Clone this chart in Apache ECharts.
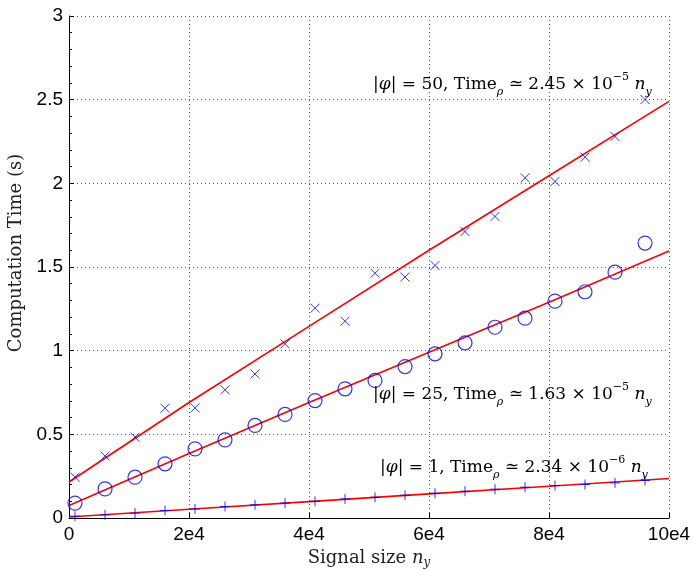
<!DOCTYPE html>
<html>
<head>
<meta charset="utf-8">
<script src="https://cdn.jsdelivr.net/npm/echarts@6/dist/echarts.min.js"></script>
<style>
  html, body { margin: 0; padding: 0; background: #fff; }
  #chart { width: 695px; height: 569px; }
</style>
</head>
<body>
<div id="chart"></div>
<script>
// signal sizes n_y
const signalSize = [1000, 6000, 11000, 16000, 21000, 26000, 31000, 36000, 41000, 46000,
  51000, 56000, 61000, 66000, 71000, 76000, 81000, 86000, 91000, 96000];
// |phi| = 50 (x markers)
const time50 = [0.244, 0.37, 0.483, 0.656, 0.658, 0.766, 0.861, 1.041, 1.254, 1.176,
  1.463, 1.44, 1.509, 1.712, 1.802, 2.033, 2.011, 2.156, 2.28, 2.501];
// |phi| = 25 (circles)
const time25 = [0.089, 0.174, 0.244, 0.324, 0.413, 0.467, 0.553, 0.619, 0.702, 0.772,
  0.822, 0.905, 0.981, 1.047, 1.14, 1.194, 1.296, 1.352, 1.469, 1.643];
// |phi| = 1 (plus)
const time1 = [0.011, 0.019, 0.029, 0.045, 0.054, 0.069, 0.079, 0.089, 0.1, 0.114,
  0.124, 0.136, 0.148, 0.16, 0.172, 0.184, 0.194, 0.2, 0.21, 0.224];
// fitted lines, sampled at the x ticks
const fitX = [0, 20000, 40000, 60000, 80000, 100000];
const fit50 = [0.215, 0.69, 1.145, 1.6, 2.045, 2.49];
const fit25 = [0.075, 0.385, 0.69, 0.99, 1.29, 1.595];
const fit1 = [0.006, 0.052, 0.098, 0.144, 0.19, 0.236];
const xTicks = ['0', '2e4', '4e4', '6e4', '8e4', '10e4'];

const blue = '#0000ff';
const red = '#ff0000';
const ink = '#222';
const serif = 'DejaVu Serif';
const sans = 'Liberation Sans';

const pts = (xs, ys) => xs.map((x, i) => [x, ys[i]]);

function richLabel(phi, coef, exp) {
  return {
    text: '{t||}{it|φ}{t|| = ' + phi + ', Time}{sub|ρ}{t| ≃ ' + coef + ' × 10}{sup|−' + exp + '}{t| }{it|n}{sub|y}',
    rich: {
      t: { fontFamily: serif, fontSize: 17, color: ink, lineHeight: 26, verticalAlign: 'middle' },
      it: { fontFamily: serif, fontSize: 17, fontStyle: 'italic', color: ink, lineHeight: 26, verticalAlign: 'middle' },
      sub: { fontFamily: serif, fontSize: 11, fontStyle: 'italic', color: ink, lineHeight: 26, verticalAlign: 'bottom' },
      sup: { fontFamily: serif, fontSize: 11, color: ink, lineHeight: 26, verticalAlign: 'top' }
    }
  };
}

const myChart = echarts.init(document.getElementById('chart'));
const option = {
  animation: false,
  grid: { left: 69, right: 26, top: 16, bottom: 51, outerBoundsMode: 'none' },
  xAxis: {
    type: 'value',
    min: 0,
    max: 100000,
    interval: 20000,
    name: 'Signal size {i|n}{s|y}',
    nameLocation: 'middle',
    nameGap: 28,
    nameTextStyle: {
      fontFamily: serif, fontSize: 18, color: ink,
      rich: {
        i: { fontFamily: serif, fontSize: 18, fontStyle: 'italic', color: ink },
        s: { fontFamily: serif, fontSize: 12, fontStyle: 'italic', color: ink, padding: [10, 0, 0, 0] }
      }
    },
    axisLine: { lineStyle: { color: '#000', width: 1 } },
    axisTick: { inside: true, length: 5, lineStyle: { color: '#000' } },
    axisLabel: {
      fontFamily: sans, fontSize: 19, color: '#000', margin: 7,
      formatter: (v) => xTicks[Math.round(v / 20000)]
    },
    splitLine: { show: true, lineStyle: { color: '#555', type: [1, 3], width: 1 } }
  },
  yAxis: {
    type: 'value',
    min: 0,
    max: 3,
    interval: 0.5,
    name: 'Computation Time (s)',
    nameLocation: 'middle',
    nameGap: 34,
    nameTextStyle: { fontFamily: serif, fontSize: 18, color: ink, padding: [0, 0, 0, 28] },
    axisLine: { show: true, lineStyle: { color: '#000', width: 1 } },
    axisTick: { show: true, inside: true, length: 5, lineStyle: { color: '#000' } },
    minorTick: { show: true, splitNumber: 5, length: 3, lineStyle: { color: '#000' } },
    axisLabel: { fontFamily: sans, fontSize: 19, color: '#000', margin: 6 },
    splitLine: { show: true, lineStyle: { color: '#555', type: [1, 3], width: 1 } }
  },
  graphic: [
    { type: 'text', left: 373, top: 72, style: richLabel(50, '2.45', 5) },
    { type: 'text', left: 373, top: 382, style: richLabel(25, '1.63', 5) },
    { type: 'text', left: 380, top: 455, style: richLabel(1, '2.34', 6) }
  ],
  series: [
    {
      type: 'line', data: pts(fitX, fit50), showSymbol: false,
      lineStyle: { color: red, width: 1.6 }, silent: true, z: 2
    },
    {
      type: 'line', data: pts(fitX, fit25), showSymbol: false,
      lineStyle: { color: red, width: 1.6 }, silent: true, z: 2
    },
    {
      type: 'line', data: pts(fitX, fit1), showSymbol: false,
      lineStyle: { color: red, width: 1.6 }, silent: true, z: 2
    },
    {
      type: 'scatter', data: pts(signalSize, time50), z: 3,
      symbol: 'path://M0,0L10,10M10,0L0,10', symbolSize: 9,
      itemStyle: { color: 'none', borderColor: blue, borderWidth: 1 }
    },
    {
      type: 'scatter', data: pts(signalSize, time25), z: 3,
      symbol: 'circle', symbolSize: 14,
      itemStyle: { color: 'none', borderColor: blue, borderWidth: 1.2 }
    },
    {
      type: 'scatter', data: pts(signalSize, time1), z: 3,
      symbol: 'path://M5,0L5,10M0,5L10,5', symbolSize: 10,
      itemStyle: { color: 'none', borderColor: blue, borderWidth: 1 }
    }
  ]
};
myChart.setOption(option);
window.addEventListener('resize', () => {
  myChart.resize();
});
</script>
</body>
</html>
